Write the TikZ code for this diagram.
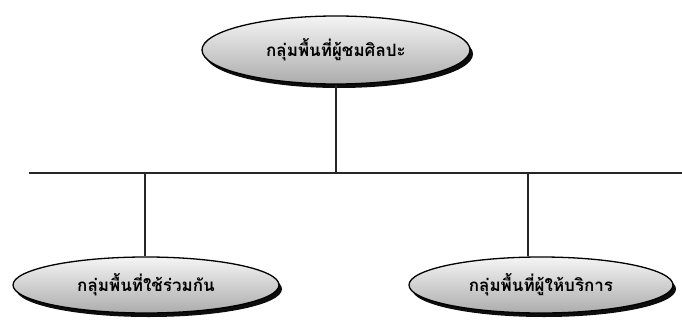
\documentclass[tikz,border=0pt]{standalone}
\usepackage{fontspec}
\newfontfamily\thaifont[Script=Thai]{Loma}
\usetikzlibrary{shapes.geometric,shadows}

\tikzset{
    area/.style={ellipse, draw=black, line width=1.3pt,
        top color=gray!8, bottom color=gray!65,
        drop shadow={shadow xshift=3pt, shadow yshift=-4pt, fill=black, opacity=0.95},
        font=\thaifont\bfseries\fontsize{17}{20}\selectfont, inner sep=0pt},
    link/.style={line width=1.2pt, color=black!85}
}

\begin{document}
\begin{tikzpicture}[x=1pt, y=-1pt]
    \useasboundingbox (0,0) rectangle (682,321);
    % top group
    \node[area, minimum width=268, minimum height=68] (audience) at (336,50) {กลุ่มพื้นที่ผู้ชมศิลปะ};
    % lower groups
    \node[area, minimum width=266, minimum height=56] (shared) at (146,285) {กลุ่มพื้นที่ใช้ร่วมกัน};
    \node[area, minimum width=264, minimum height=56] (service) at (541,285) {กลุ่มพื้นที่ผู้ให้บริการ};
    % branch line
    \coordinate (busL) at (29,173);
    \coordinate (busR) at (682,173);
    \coordinate (busT) at (336,173);
    \coordinate (busA) at (145,173);
    \coordinate (busB) at (528,173);
    \draw[link] (busL) -- (busR);
    \draw[link] (audience.south) -- (busT);
    \draw[link] (busA) -- (busA |- shared.north);
    \draw[link] (busB) -- (busB |- service.north);
\end{tikzpicture}
\end{document}
